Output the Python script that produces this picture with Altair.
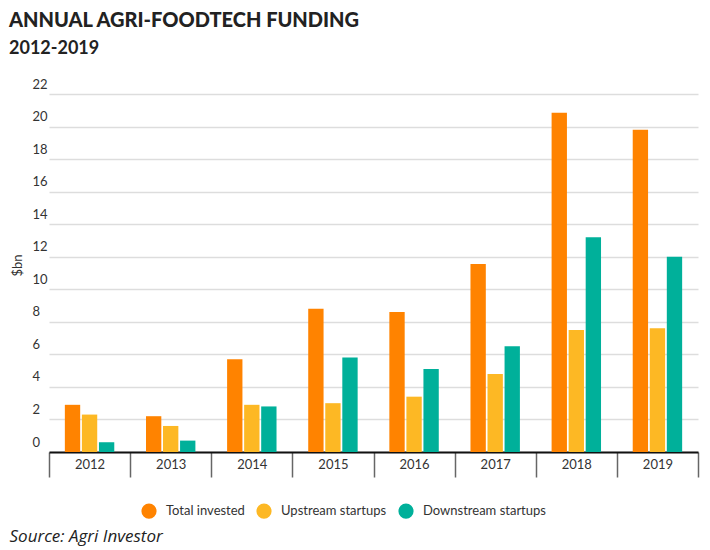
import altair as alt
import pandas as pd

years = ["2012", "2013", "2014", "2015", "2016", "2017", "2018", "2019"]
series = ["Total invested", "Upstream startups", "Downstream startups"]
total = [2.9, 2.2, 5.7, 8.8, 8.6, 11.55, 20.85, 19.8]
upstream = [2.3, 1.6, 2.9, 3.0, 3.4, 4.8, 7.5, 7.6]
downstream = [0.6, 0.7, 2.8, 5.8, 5.1, 6.5, 13.2, 12.0]
colors = ["#FF8300", "#FDB824", "#00B09A"]
y_ticks = [0, 2, 4, 6, 8, 10, 12, 14, 16, 18, 20, 22]

rows = []
for name, vals in zip(series, [total, upstream, downstream]):
    for yr, v in zip(years, vals):
        rows.append({"year": yr, "series": name, "value": v})
df = pd.DataFrame(rows)

FONT = "Lato"

chart = (
    alt.Chart(df)
    .mark_bar()
    .encode(
        x=alt.X(
            "year:N",
            sort=years,
            scale=alt.Scale(range=[18, 667], paddingInner=0, paddingOuter=0),
            axis=alt.Axis(
                title="Source: Agri Investor",
                titleX=-22,
                titleY=84,
                titleAlign="left",
                titleBaseline="middle",
                titleFont="Open Sans",
                titleFontStyle="italic",
                titleFontWeight="normal",
                titleFontSize=17,
                titleColor="#222222",
                tickBand="extent",
                ticks=True,
                tickSize=25,
                tickColor="#666666",
                tickWidth=1.5,
                domainColor="#111111",
                domainWidth=2,
                labelPadding=-19,
                labelAngle=0,
                labelFont=FONT,
                labelFontSize=13,
                labelColor="#333333",
                grid=False,
            ),
        ),
        xOffset=alt.XOffset(
            "series:N",
            sort=series,
            scale=alt.Scale(paddingInner=0.1, paddingOuter=0.93),
        ),
        y=alt.Y(
            "value:Q",
            scale=alt.Scale(domain=[0, 22], nice=False),
            axis=alt.Axis(
                title="$bn",
                titleX=-14,
                titleY=171,
                titleAngle=-90,
                titleAlign="center",
                titleBaseline="middle",
                titleFont=FONT,
                titleFontSize=13,
                titleFontWeight="normal",
                titleColor="#333333",
                values=y_ticks,
                domain=False,
                ticks=False,
                labelAlign="left",
                labelBaseline="bottom",
                labelPadding=-1,
                labelOffset=-3,
                labelFont=FONT,
                labelFontSize=13,
                labelColor="#333333",
                grid=True,
                gridColor="#dddddd",
                gridWidth=1.5,
            ),
        ),
        color=alt.Color(
            "series:N",
            sort=series,
            scale=alt.Scale(domain=series, range=colors),
            legend=alt.Legend(
                title=None,
                orient="none",
                legendX=110,
                legendY=409,
                direction="horizontal",
                symbolType="circle",
                symbolSize=230,
                symbolStrokeWidth=0,
                symbolOpacity=1,
                labelFont=FONT,
                labelFontSize=13,
                labelColor="#333333",
                labelOffset=9,
                columnPadding=11,
            ),
        ),
    )
    .properties(
        width=669,
        height=358,
        padding={"left": 23, "top": 86, "right": 2, "bottom": 96},
        autosize=alt.AutoSizeParams(type="none"),
        title=alt.TitleParams(
            text="ANNUAL AGRI-FOODTECH FUNDING",
            subtitle="2012-2019",
            anchor="start",
            frame="group",
            dx=-22,
            offset=20,
            font=FONT,
            fontSize=20,
            fontWeight=900,
            color="#222222",
            subtitleFont=FONT,
            subtitleFontSize=18,
            subtitleFontWeight="bold",
            subtitleColor="#222222",
            subtitlePadding=9,
        ),
    )
    .configure_view(stroke=None)
)

chart.save("out.html", embed_options={"renderer": "svg", "actions": False})
